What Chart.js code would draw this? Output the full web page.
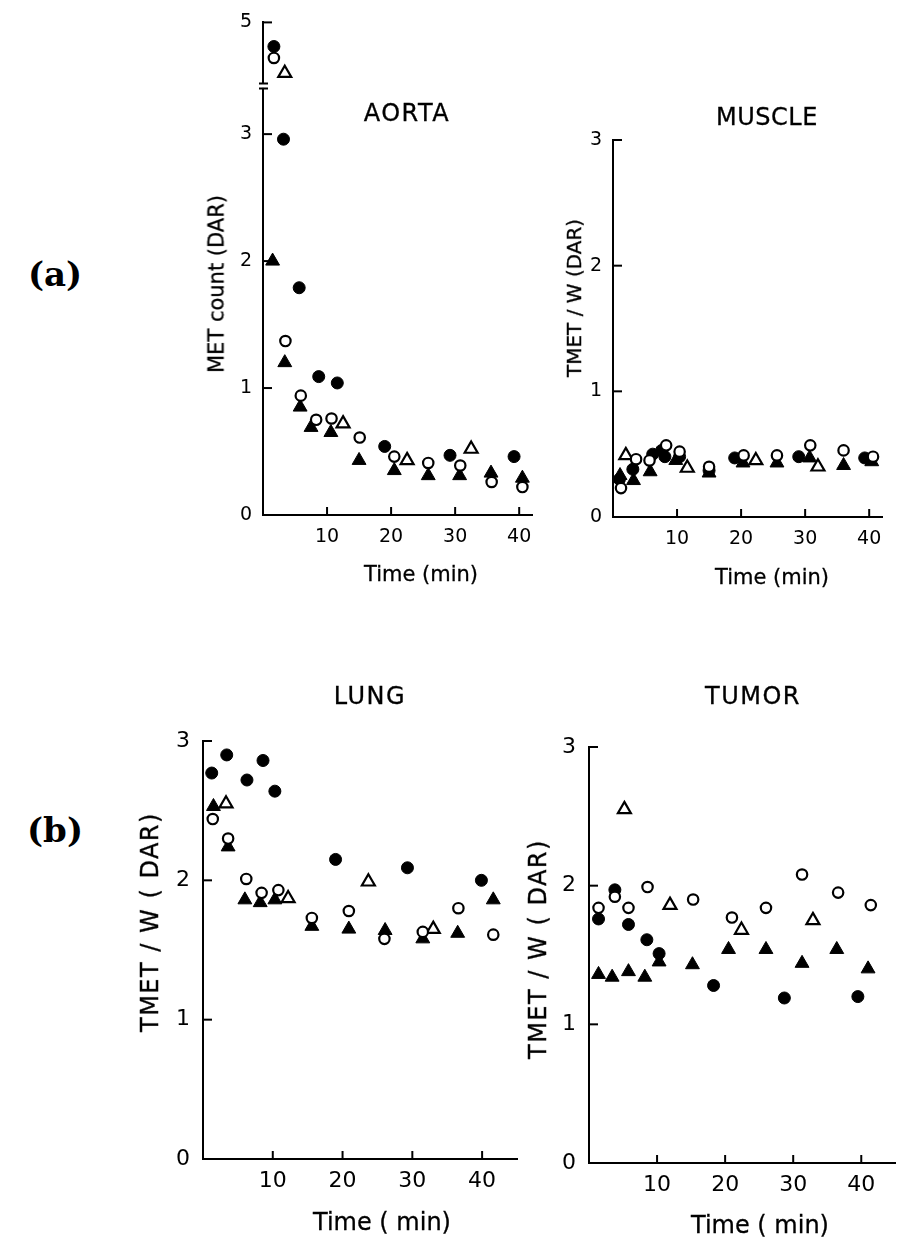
<!DOCTYPE html>
<html>
<head>
<meta charset="utf-8">
<script src="https://cdn.jsdelivr.net/npm/chart.js@4.4.0/dist/chart.umd.min.js"></script>
<style>
  body { margin: 0; background: #fff; width: 905px; height: 1248px; position: relative; overflow: hidden; font-family: "DejaVu Sans", sans-serif; color: #000; }
  .panel { position: absolute; }
  .lbl { position: absolute; transform: translate(-50%, -50%); white-space: pre; line-height: 1; -webkit-text-stroke: 0.3px #000; }
  .rot { transform: translate(-50%, -50%) rotate(-90deg); }
  .tag { font-family: "DejaVu Serif", serif; font-weight: bold; font-size: 34px; -webkit-text-stroke: 0; }
  .wide { letter-spacing: 1.5px; }
</style>
</head>
<body>

<div class="panel" id="boxAorta"><canvas id="aorta"></canvas></div>
<div class="panel" id="boxMuscle"><canvas id="muscle"></canvas></div>
<div class="panel" id="boxLung"><canvas id="lung"></canvas></div>
<div class="panel" id="boxTumor"><canvas id="tumor"></canvas></div>

<div class="lbl tag" style="left:55px;top:274px">(a)</div>
<div class="lbl tag" style="left:55px;top:830px">(b)</div>

<div class="lbl wide" style="left:407px;top:113px;font-size:24px">AORTA</div>
<div class="lbl" style="left:767px;top:117px;font-size:24px;letter-spacing:0.5px">MUSCLE</div>
<div class="lbl wide" style="left:370px;top:696px;font-size:24px">LUNG</div>
<div class="lbl wide" style="left:753px;top:696px;font-size:24px">TUMOR</div>

<div class="lbl rot" style="left:217px;top:284px;font-size:21px">MET count (DAR)</div>
<div class="lbl rot" style="left:574px;top:298px;font-size:20px">TMET / W (DAR)</div>
<div class="lbl rot wide" style="left:150px;top:922px;font-size:24px">TMET / W ( DAR)</div>
<div class="lbl rot wide" style="left:538px;top:949px;font-size:24px">TMET / W ( DAR)</div>

<div class="lbl" style="left:421px;top:574px;font-size:21px">Time (min)</div>
<div class="lbl" style="left:772px;top:577px;font-size:21px">Time (min)</div>
<div class="lbl" style="left:382px;top:1222px;font-size:24px">Time ( min)</div>
<div class="lbl" style="left:760px;top:1225px;font-size:24px">Time ( min)</div>

<script>
// [time (min), value] pairs
const aortaFilledCircle = [[1.7,4.81],[3.2,2.96],[5.65,1.79],[8.7,1.09],[11.6,1.04],[19.0,0.54],[29.2,0.47],[39.2,0.46]];
const aortaOpenCircle = [[1.7,4.72],[3.5,1.37],[5.9,0.94],[8.3,0.75],[10.7,0.76],[15.1,0.61],[20.5,0.46],[25.8,0.41],[30.8,0.39],[35.7,0.26],[40.5,0.22]];
const aortaFilledTriangle = [[1.5,2.0],[3.4,1.2],[5.8,0.85],[7.5,0.69],[10.6,0.65],[15.0,0.43],[20.5,0.35],[25.8,0.31],[30.7,0.31],[35.6,0.33],[40.5,0.29]];
const aortaOpenTriangle = [[3.4,4.6],[12.5,0.72],[22.5,0.43],[32.5,0.52]];

const muscleFilledCircle = [[1.0,0.30],[3.1,0.38],[6.2,0.50],[7.6,0.53],[8.1,0.48],[10.4,0.48],[15.0,0.37],[19.0,0.47],[29.0,0.48],[39.3,0.47]];
const muscleOpenCircle = [[1.25,0.23],[3.6,0.46],[5.7,0.45],[8.3,0.57],[10.4,0.52],[15.0,0.40],[20.4,0.49],[25.6,0.49],[30.8,0.57],[36.0,0.53],[40.6,0.48]];
const muscleFilledTriangle = [[1.1,0.33],[3.2,0.29],[5.8,0.36],[9.8,0.45],[15.0,0.35],[20.3,0.43],[25.6,0.43],[30.7,0.47],[36.0,0.41],[40.4,0.44]];
const muscleOpenTriangle = [[2.0,0.49],[11.6,0.39],[22.3,0.45],[32.0,0.40]];

const lungFilledCircle = [[1.25,2.77],[3.4,2.90],[6.3,2.72],[8.6,2.86],[10.3,2.64],[19.0,2.15],[29.3,2.09],[39.9,2.00]];
const lungOpenCircle = [[1.4,2.44],[3.6,2.30],[6.2,2.01],[8.4,1.91],[10.8,1.93],[15.6,1.73],[20.9,1.78],[26.0,1.58],[31.5,1.63],[36.6,1.80],[41.6,1.61]];
const lungFilledTriangle = [[1.5,2.53],[3.6,2.24],[6.0,1.86],[8.2,1.84],[10.3,1.86],[15.6,1.67],[20.9,1.65],[26.1,1.64],[31.5,1.58],[36.5,1.62],[41.6,1.86]];
const lungOpenTriangle = [[3.3,2.55],[12.2,1.87],[23.7,1.99],[33.0,1.65]];

const tumorFilledCircle = [[1.4,1.76],[3.8,1.97],[5.8,1.72],[8.5,1.61],[10.3,1.51],[18.3,1.28],[28.7,1.19],[39.5,1.20]];
const tumorOpenCircle = [[1.4,1.84],[3.8,1.92],[5.8,1.84],[8.6,1.99],[15.3,1.90],[21.0,1.77],[26.0,1.84],[31.3,2.08],[36.6,1.95],[41.4,1.86]];
const tumorFilledTriangle = [[1.4,1.36],[3.4,1.34],[5.8,1.38],[8.2,1.34],[10.3,1.45],[15.2,1.43],[20.5,1.54],[26.0,1.54],[31.3,1.44],[36.4,1.54],[41.0,1.40]];
const tumorOpenTriangle = [[5.2,2.55],[11.9,1.86],[22.4,1.68],[32.9,1.75]];

const xTickValues = [10, 20, 30, 40];
const yTickValues = [0, 1, 2, 3];
const aortaTopTicks = [5];
const aortaBreak = 3.38;   // lower segment ends here, upper segment is 4.5 - 5

// marker looks
const styles = {
  filledCircle:   { pointStyle: "circle",   radius: 6,   bg: "#000", bw: 1 },
  openCircle:     { pointStyle: "circle",   radius: 5.2, bg: "#fff", bw: 2.2 },
  filledTriangle: { pointStyle: "triangle", radius: 8,   bg: "#000", bw: 1 },
  openTriangle:   { pointStyle: "triangle", radius: 7.5, bg: "#fff", bw: 2.2 }
};

function toXY(arr) { return arr.map(p => ({ x: p[0], y: p[1] })); }

function dataset(kind, arr, axis) {
  const s = styles[kind];
  return {
    data: toXY(arr),
    yAxisID: axis,
    pointStyle: s.pointStyle,
    pointRadius: s.radius,
    pointBackgroundColor: s.bg,
    pointBorderColor: "#000",
    pointBorderWidth: s.bw,
    pointHoverRadius: s.radius,
    showLine: false,
    clip: false
  };
}

// small ticks pointing into the plot, like the original
const innerTicks = {
  id: "innerTicks",
  afterDraw(chart) {
    const ctx = chart.ctx, a = chart.chartArea;
    ctx.save();
    ctx.strokeStyle = "#000";
    ctx.lineWidth = 2;
    Object.values(chart.scales).forEach(s => {
      s.ticks.forEach(t => {
        if (t.value === 0) return;
        const px = s.getPixelForValue(t.value);
        ctx.beginPath();
        if (s.isHorizontal()) { ctx.moveTo(px, a.bottom); ctx.lineTo(px, a.bottom - 8); }
        else { ctx.moveTo(a.left, px); ctx.lineTo(a.left + 9, px); }
        ctx.stroke();
      });
    });
    ctx.restore();
  }
};

// break marks on the aorta y axis
const axisBreak = {
  id: "axisBreak",
  afterDraw(chart) {
    const hi = chart.scales.yHigh;
    if (!hi) return;
    const ctx = chart.ctx, x = chart.chartArea.left, y = hi.bottom;
    ctx.save();
    ctx.fillStyle = "#fff";
    ctx.fillRect(x - 3, y - 2, 6, 4);
    ctx.strokeStyle = "#000";
    ctx.lineWidth = 2;
    ctx.beginPath();
    ctx.moveTo(x - 4, y - 2.5); ctx.lineTo(x + 5, y - 2.5);
    ctx.moveTo(x - 4, y + 2.5); ctx.lineTo(x + 5, y + 2.5);
    ctx.stroke();
    ctx.restore();
  }
};

function yScale(p, min, max, ticks, extra) {
  return Object.assign({
    type: "linear",
    position: "left",
    min: min,
    max: max,
    grid: { display: false, drawTicks: false },
    border: { color: "#000", width: 2 },
    ticks: { color: "#000", font: { size: p.tickSize }, padding: p.yPad, autoSkip: false },
    afterBuildTicks: s => { s.ticks = ticks.map(v => ({ value: v })); },
    afterFit: s => { s.width = p.yW; }
  }, extra || {});
}

function makeChart(p, datasets, yScales) {
  const box = document.getElementById(p.box);
  box.style.left = p.left + "px";
  box.style.top = p.top + "px";
  box.style.width = p.w + "px";
  box.style.height = p.h + "px";

  const scales = {
    x: {
      type: "linear",
      min: 0,
      max: p.xMax,
      grid: { display: false, drawTicks: false },
      border: { color: "#000", width: 2 },
      ticks: { color: "#000", font: { size: p.tickSize }, padding: p.xPad, maxRotation: 0, autoSkip: false },
      afterBuildTicks: s => { s.ticks = xTickValues.map(v => ({ value: v })); },
      afterFit: s => { s.height = p.xH; }
    }
  };
  Object.assign(scales, yScales);

  return new Chart(document.getElementById(p.id), {
    type: "scatter",
    data: { datasets: datasets },
    options: {
      responsive: true,
      maintainAspectRatio: false,
      animation: false,
      layout: { padding: { left: 0, right: p.padR, top: p.padT, bottom: 0 } },
      plugins: { legend: { display: false }, tooltip: { enabled: false } },
      scales: scales
    },
    plugins: [innerTicks, axisBreak]
  });
}

Chart.defaults.font.family = "'DejaVu Sans', sans-serif";
Chart.defaults.color = "#000";

// AORTA (broken y axis: two stacked scales)
const aortaP = { id: "aorta", box: "boxAorta", left: 180, top: 0, w: 365, h: 600, yW: 83, padR: 13, padT: 22, xH: 85, xMax: 42, tickSize: 19, xPad: 11, yPad: 11 };
const aortaSeries = [
  ["openCircle", aortaOpenCircle], ["filledCircle", aortaFilledCircle],
  ["filledTriangle", aortaFilledTriangle], ["openTriangle", aortaOpenTriangle]
];
const aortaSets = [];
aortaSeries.forEach(([k, arr]) => {
  aortaSets.push(dataset(k, arr.filter(p => p[1] <= aortaBreak), "yLow"));
  aortaSets.push(dataset(k, arr.filter(p => p[1] > aortaBreak), "yHigh"));
});
makeChart(aortaP, aortaSets, {
  yLow: yScale(aortaP, 0, aortaBreak, yTickValues, { stack: "aorta", stackWeight: aortaBreak, weight: 0 }),
  yHigh: yScale(aortaP, 4.5, 5, aortaTopTicks, { stack: "aorta", stackWeight: 0.5, weight: 1 })
});

// MUSCLE
const muscleP = { id: "muscle", box: "boxMuscle", left: 545, top: 100, w: 350, h: 500, yW: 68, padR: 13, padT: 40, xH: 83, xMax: 42, tickSize: 19, xPad: 11, yPad: 11 };
makeChart(muscleP, [
  dataset("openCircle", muscleOpenCircle, "y"),
  dataset("filledCircle", muscleFilledCircle, "y"),
  dataset("filledTriangle", muscleFilledTriangle, "y"),
  dataset("openTriangle", muscleOpenTriangle, "y")
], { y: yScale(muscleP, 0, 3, yTickValues) });

// LUNG
const lungP = { id: "lung", box: "boxLung", left: 140, top: 700, w: 390, h: 548, yW: 63, padR: 13, padT: 41, xH: 89, xMax: 45, tickSize: 22, xPad: 9, yPad: 13 };
makeChart(lungP, [
  dataset("openCircle", lungOpenCircle, "y"),
  dataset("filledCircle", lungFilledCircle, "y"),
  dataset("filledTriangle", lungFilledTriangle, "y"),
  dataset("openTriangle", lungOpenTriangle, "y")
], { y: yScale(lungP, 0, 3, yTickValues) });

// TUMOR
const tumorP = { id: "tumor", box: "boxTumor", left: 530, top: 700, w: 375, h: 548, yW: 59, padR: 6, padT: 47, xH: 85, xMax: 45, tickSize: 22, xPad: 9, yPad: 13 };
makeChart(tumorP, [
  dataset("openCircle", tumorOpenCircle, "y"),
  dataset("filledCircle", tumorFilledCircle, "y"),
  dataset("filledTriangle", tumorFilledTriangle, "y"),
  dataset("openTriangle", tumorOpenTriangle, "y")
], { y: yScale(tumorP, 0, 3, yTickValues) });
</script>
</body>
</html>
